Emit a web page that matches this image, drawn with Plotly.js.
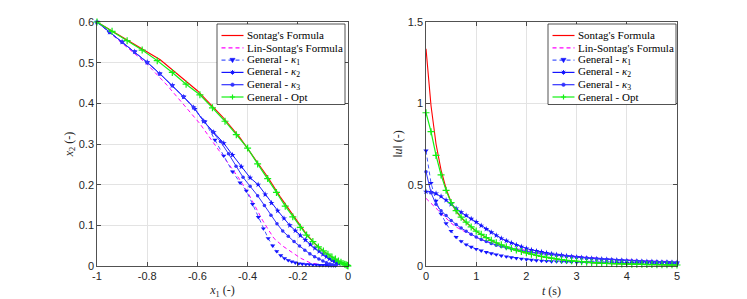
<!DOCTYPE html>
<html><head><meta charset="utf-8">
<script src="https://cdn.plot.ly/plotly-3.0.1.min.js"></script>
<style>html,body{margin:0;padding:0;background:#fff}#chart{width:747px;height:299px}</style>
</head><body><div id="chart"></div>
<script>
// ---------- Left panel: state trajectories (x1, x2) ----------
const sontagX1 = [-1, -0.748, -0.6, -0.5, -0.43, -0.37, -0.32, -0.27, -0.22, -0.17, -0.13, -0.095, -0.065, -0.04, -0.02, 0];
const sontagX2 = [0.6, 0.507, 0.431, 0.367, 0.315, 0.264, 0.219, 0.17, 0.125, 0.082, 0.053, 0.035, 0.023, 0.014, 0.007, 0.002];

const linX1 = [-1, -0.9, -0.8, -0.72, -0.65, -0.59, -0.535, -0.5, -0.468, -0.435, -0.401, -0.37, -0.341, -0.318, -0.295, -0.26, -0.228, -0.188, -0.148, -0.11, -0.08, -0.05, -0.03];
const linX2 = [0.6, 0.548, 0.496, 0.444, 0.394, 0.35, 0.302, 0.272, 0.244, 0.216, 0.183, 0.145, 0.113, 0.09, 0.068, 0.049, 0.035, 0.019, 0.007, 0.003, 0.001, 0.0005, 0];

const k1X1 = [-1, -0.95, -0.9, -0.85, -0.8, -0.75, -0.7, -0.655, -0.61, -0.57, -0.53, -0.495, -0.46, -0.43, -0.405, -0.38, -0.357, -0.337, -0.318, -0.3, -0.284, -0.268, -0.253, -0.238, -0.224, -0.21, -0.196, -0.182, -0.168, -0.154, -0.14, -0.126, -0.113, -0.1, -0.088, -0.077, -0.067, -0.058, -0.05];
const k1X2 = [0.6, 0.575, 0.551, 0.527, 0.5, 0.473, 0.444, 0.416, 0.386, 0.355, 0.31, 0.271, 0.232, 0.205, 0.185, 0.152, 0.12, 0.092, 0.068, 0.05, 0.036, 0.026, 0.019, 0.014, 0.011, 0.008, 0.006, 0.005, 0.004, 0.004, 0.003, 0.003, 0.002, 0.002, 0.002, 0.001, 0.001, 0.001, 0.001];

const k2X1 = [-1, -0.95, -0.9, -0.85, -0.8, -0.75, -0.7, -0.655, -0.615, -0.575, -0.535, -0.495, -0.46, -0.425, -0.39, -0.358, -0.33, -0.305, -0.28, -0.255, -0.232, -0.21, -0.19, -0.17, -0.15, -0.132, -0.115, -0.1, -0.086, -0.074, -0.063, -0.054, -0.047, -0.041, -0.037];
const k2X2 = [0.6, 0.575, 0.551, 0.527, 0.501, 0.473, 0.444, 0.416, 0.39, 0.356, 0.329, 0.302, 0.273, 0.244, 0.217, 0.2, 0.176, 0.155, 0.136, 0.117, 0.1, 0.087, 0.075, 0.064, 0.053, 0.044, 0.036, 0.029, 0.023, 0.018, 0.014, 0.011, 0.009, 0.007, 0.006];

const k3X1 = [-1, -0.95, -0.9, -0.85, -0.8, -0.75, -0.7, -0.655, -0.615, -0.575, -0.54, -0.508, -0.476, -0.446, -0.418, -0.39, -0.36, -0.333, -0.307, -0.283, -0.26, -0.238, -0.215, -0.193, -0.172, -0.152, -0.133, -0.116, -0.1, -0.086, -0.074, -0.064, -0.056, -0.05];
const k3X2 = [0.6, 0.575, 0.551, 0.527, 0.501, 0.473, 0.444, 0.416, 0.39, 0.356, 0.33, 0.306, 0.276, 0.245, 0.218, 0.196, 0.173, 0.149, 0.125, 0.104, 0.086, 0.073, 0.06, 0.049, 0.039, 0.03, 0.023, 0.017, 0.012, 0.008, 0.005, 0.003, 0.002, 0.001];

const optX1 = [-1, -0.94, -0.88, -0.82, -0.76, -0.70, -0.645, -0.59, -0.54, -0.49, -0.445, -0.40, -0.36, -0.32, -0.285, -0.25, -0.22, -0.19, -0.165, -0.14, -0.118, -0.098, -0.08, -0.064, -0.05, -0.038, -0.028, -0.02, -0.013, -0.008, -0.004, -0.002, 0];
const optX2 = [0.6, 0.577, 0.554, 0.531, 0.505, 0.476, 0.447, 0.421, 0.389, 0.356, 0.323, 0.29, 0.251, 0.215, 0.181, 0.147, 0.121, 0.095, 0.076, 0.06, 0.047, 0.037, 0.029, 0.022, 0.017, 0.012, 0.009, 0.006, 0.004, 0.003, 0.002, 0.001, 0];

// ---------- Right panel: control effort ||u|| vs time ----------
const tSim = [0, 0.1, 0.2, 0.3, 0.4, 0.5, 0.6, 0.7, 0.8, 0.9, 1.0, 1.1, 1.2, 1.3, 1.4, 1.5, 1.6, 1.7, 1.8, 1.9, 2.0, 2.1, 2.2, 2.3, 2.4, 2.5, 2.6, 2.7, 2.8, 2.9, 3.0, 3.1, 3.2, 3.3, 3.4, 3.5, 3.6, 3.7, 3.8, 3.9, 4.0, 4.1, 4.2, 4.3, 4.4, 4.5, 4.6, 4.7, 4.8, 4.9, 5.0];
const uSontag = [1.335, 0.985, 0.75, 0.59, 0.475, 0.392, 0.336, 0.297, 0.267, 0.238, 0.213, 0.193, 0.173, 0.156, 0.141, 0.128, 0.116, 0.105, 0.096, 0.087, 0.079, 0.071, 0.064, 0.057, 0.051, 0.046, 0.041, 0.037, 0.033, 0.030, 0.027, 0.024, 0.022, 0.020, 0.018, 0.016, 0.015, 0.014, 0.013, 0.012, 0.011, 0.010, 0.009, 0.009, 0.008, 0.008, 0.007, 0.007, 0.006, 0.006, 0.005];
const uLin = [0.416, 0.385, 0.352, 0.322, 0.292, 0.264, 0.24, 0.222, 0.205, 0.19, 0.175, 0.163, 0.152, 0.142, 0.132, 0.124, 0.117, 0.111, 0.105, 0.1, 0.095, 0.09, 0.086, 0.082, 0.078, 0.074, 0.07, 0.067, 0.063, 0.06, 0.057, 0.054, 0.052, 0.049, 0.047, 0.045, 0.043, 0.041, 0.039, 0.038, 0.036, 0.035, 0.034, 0.033, 0.032, 0.031, 0.03, 0.029, 0.028, 0.027, 0.026];
const uK1 = [0.709, 0.51, 0.40, 0.32, 0.262, 0.215, 0.178, 0.152, 0.132, 0.117, 0.104, 0.094, 0.085, 0.077, 0.07, 0.063, 0.058, 0.053, 0.048, 0.044, 0.04, 0.037, 0.034, 0.032, 0.03, 0.028, 0.027, 0.026, 0.025, 0.024, 0.023, 0.023, 0.022, 0.022, 0.021, 0.021, 0.02, 0.02, 0.019, 0.019, 0.018, 0.018, 0.018, 0.017, 0.017, 0.017, 0.016, 0.016, 0.016, 0.015, 0.015];
const uK2 = [0.457, 0.455, 0.446, 0.428, 0.405, 0.38, 0.353, 0.33, 0.31, 0.29, 0.27, 0.248, 0.227, 0.207, 0.188, 0.17, 0.155, 0.142, 0.13, 0.119, 0.108, 0.099, 0.092, 0.086, 0.08, 0.075, 0.07, 0.066, 0.062, 0.058, 0.055, 0.052, 0.049, 0.046, 0.044, 0.042, 0.04, 0.038, 0.036, 0.034, 0.033, 0.031, 0.03, 0.028, 0.027, 0.026, 0.025, 0.024, 0.023, 0.022, 0.021];
const uK3 = [0.58, 0.45, 0.38, 0.34, 0.31, 0.28, 0.255, 0.233, 0.213, 0.195, 0.178, 0.163, 0.15, 0.138, 0.128, 0.12, 0.112, 0.106, 0.1, 0.094, 0.089, 0.085, 0.081, 0.077, 0.073, 0.07, 0.066, 0.063, 0.06, 0.057, 0.054, 0.051, 0.049, 0.046, 0.044, 0.042, 0.04, 0.038, 0.036, 0.035, 0.033, 0.032, 0.03, 0.029, 0.028, 0.027, 0.026, 0.025, 0.024, 0.023, 0.022];
const uOpt = [0.942, 0.826, 0.68, 0.56, 0.465, 0.39, 0.34, 0.30, 0.27, 0.24, 0.215, 0.195, 0.175, 0.158, 0.143, 0.13, 0.118, 0.107, 0.098, 0.089, 0.081, 0.073, 0.066, 0.059, 0.053, 0.048, 0.043, 0.039, 0.035, 0.032, 0.029, 0.026, 0.023, 0.021, 0.019, 0.017, 0.016, 0.015, 0.014, 0.013, 0.012, 0.011, 0.010, 0.010, 0.009, 0.009, 0.008, 0.008, 0.007, 0.007, 0.006];

// ---------- Labels ----------
const legendLabels = ["Sontag's Formula", "Lin-Sontag's Formula", "General - <i>κ</i><sub>1</sub>", "General - <i>κ</i><sub>2</sub>", "General - <i>κ</i><sub>3</sub>", "General - Opt"];
const xTickVals1 = [-1, -0.8, -0.6, -0.4, -0.2, 0];
const xTickText1 = ["-1", "-0.8", "-0.6", "-0.4", "-0.2", "0"];
const yTickVals1 = [0, 0.1, 0.2, 0.3, 0.4, 0.5, 0.6];
const yTickText1 = ["0", "0.1", "0.2", "0.3", "0.4", "0.5", "0.6"];
const xTickVals2 = [0, 1, 2, 3, 4, 5];
const yTickVals2 = [0, 0.5, 1, 1.5];
const yTickText2 = ["0", "0.5", "1", "1.5"];

// ---------- Styles ----------
const RED = '#ff0000', MAG = '#ff00ff', B1 = 'rgb(70,90,255)', B2 = 'rgb(20,20,255)', B3 = 'rgb(50,50,255)', GRN = 'rgb(20,240,20)';
const styles = [
  {line: {color: RED, width: 1.1}, mode: 'lines'},
  {line: {color: MAG, width: 1, dash: '4px,3px'}, mode: 'lines'},
  {line: {color: B1, width: 1, dash: '4px,3px'}, mode: 'lines+markers', marker: {symbol: 'triangle-down', size: 4.5, color: B2}},
  {line: {color: B2, width: 1}, mode: 'lines+markers', marker: {symbol: 'star', size: 4.5, color: B2}},
  {line: {color: B3, width: 1}, mode: 'lines+markers', marker: {symbol: 'circle', size: 3.5, color: B3}},
  {line: {color: GRN, width: 1.2}, mode: 'lines+markers', marker: {symbol: 'cross-thin-open', size: 5, color: GRN, line: {color: GRN, width: 1.2}}}
];

const leftData = [[sontagX1, sontagX2], [linX1, linX2], [k1X1, k1X2], [k2X1, k2X2], [k3X1, k3X2], [optX1, optX2]];
const rightData = [uSontag, uLin, uK1, uK2, uK3, uOpt];

const traces = [];
leftData.forEach((d, i) => {
  traces.push(Object.assign({type: 'scatter', x: d[0], y: d[1], xaxis: 'x', yaxis: 'y', showlegend: false, cliponaxis: false, hoverinfo: 'skip'}, styles[i]));
});
rightData.forEach((d, i) => {
  traces.push(Object.assign({type: 'scatter', x: tSim, y: d, xaxis: 'x2', yaxis: 'y2', showlegend: false, cliponaxis: false, hoverinfo: 'skip'}, styles[i]));
});

// ---------- Layout helpers ----------
const W = 747, H = 299, MT = 22, MB = 33;
const PLOT_BOTTOM = H - MB, PLOT_H = H - MT - MB;
const px = p => p / W;
const py = p => (PLOT_BOTTOM - p) / PLOT_H;

const axisBase = {
  showline: true, linecolor: '#262626', linewidth: 0.8, mirror: 'ticks',
  ticks: 'inside', ticklen: 4, tickwidth: 0.8, tickcolor: '#262626',
  showgrid: true, gridcolor: '#e3e3e3', gridwidth: 1, zeroline: false,
  tickfont: {family: 'Liberation Sans, Arial, sans-serif', size: 11, color: '#262626'}
};
const titleFont = {family: 'Liberation Serif', size: 12, color: '#262626'};

const shapes = [], annotations = [];
function addLegend(boxLeft) {
  const boxTop = 24, boxBottom = 104.5, boxRight = boxLeft + 128;
  shapes.push({type: 'rect', xref: 'paper', yref: 'paper', x0: px(boxLeft), x1: px(boxRight), y0: py(boxBottom), y1: py(boxTop),
    line: {color: '#262626', width: 0.8}, fillcolor: '#ffffff', layer: 'above'});
  const sx0 = boxLeft + 4.5, sx1 = boxLeft + 26.5, cx = (sx0 + sx1) / 2;
  legendLabels.forEach((lab, i) => {
    const cy = 35.5 + 12.3 * i;
    const st = styles[i];
    shapes.push({type: 'line', xref: 'paper', yref: 'paper', x0: px(sx0), x1: px(sx1), y0: py(cy), y1: py(cy),
      line: {color: st.line.color, width: Math.max(st.line.width, 1.2), dash: st.line.dash || 'solid'}});
    const mk = {xref: 'paper', yref: 'paper', xsizemode: 'pixel', ysizemode: 'pixel', xanchor: px(cx), yanchor: py(cy)};
    if (i === 2) shapes.push(Object.assign({type: 'path', path: 'M-2.6,1.8 L2.6,1.8 L0,-2.6 Z', fillcolor: B2, line: {color: B2, width: 0.5}}, mk));
    if (i === 3) shapes.push(Object.assign({type: 'path', path: 'M-2.3,0 L2.3,0 M0,-2.3 L0,2.3 M-1.6,-1.6 L1.6,1.6 M-1.6,1.6 L1.6,-1.6', line: {color: B2, width: 1}}, mk));
    if (i === 4) shapes.push(Object.assign({type: 'circle', x0: -1.8, x1: 1.8, y0: -1.8, y1: 1.8, fillcolor: B3, line: {color: B3, width: 0.5}}, mk));
    if (i === 5) shapes.push(Object.assign({type: 'path', path: 'M-2.6,0 L2.6,0 M0,-2.6 L0,2.6', line: {color: GRN, width: 1.2}}, mk));
    annotations.push({xref: 'paper', yref: 'paper', x: px(sx1 + 1), y: py(cy), xanchor: 'left', yanchor: 'middle',
      text: lab, showarrow: false, font: {family: 'Liberation Serif', size: 11, color: '#000000'}});
  });
}
addLegend(217);
addLegend(548);

const layout = {
  width: W, height: H,
  margin: {l: 0, r: 0, t: MT, b: MB, pad: 0},
  paper_bgcolor: '#ffffff', plot_bgcolor: '#ffffff',
  showlegend: false,
  xaxis: Object.assign({}, axisBase, {domain: [px(97), px(348)], anchor: 'y', range: [-1, 0], tickvals: xTickVals1, ticktext: xTickText1,
    title: {text: '<i>x</i><sub>1</sub> (-)', font: titleFont, standoff: 5}}),
  yaxis: Object.assign({}, axisBase, {domain: [0, 1], anchor: 'x', range: [0, 0.6], tickvals: yTickVals1, ticktext: yTickText1,
    title: {text: '<i>x</i><sub>2</sub> (-)', font: titleFont, standoff: 2}}),
  xaxis2: Object.assign({}, axisBase, {domain: [px(426), px(677)], anchor: 'y2', range: [0, 5], tickvals: xTickVals2,
    title: {text: '<i>t</i> (s)', font: titleFont, standoff: 5}}),
  yaxis2: Object.assign({}, axisBase, {domain: [0, 1], anchor: 'x2', range: [0, 1.5], tickvals: yTickVals2, ticktext: yTickText2,
    title: {text: '‖<i>u</i>‖ (-)', font: titleFont, standoff: 2}}),
  shapes: shapes,
  annotations: annotations
};

Plotly.newPlot('chart', traces, layout, {staticPlot: true, displayModeBar: false});
</script>
</body></html>
